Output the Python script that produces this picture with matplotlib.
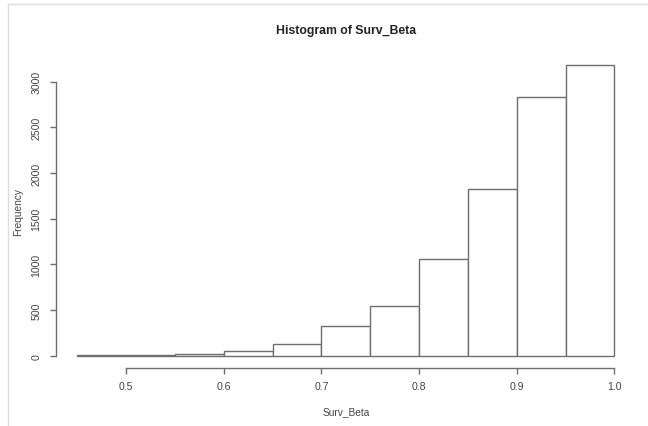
import matplotlib.pyplot as plt

plt.rcParams['font.family'] = ['Liberation Sans', 'DejaVu Sans']

# histogram of Surv_Beta
bin_left = [0.45, 0.50, 0.55, 0.60, 0.65, 0.70, 0.75, 0.80, 0.85, 0.90, 0.95]
counts = [5, 11, 22, 48, 135, 325, 548, 1063, 1831, 2836, 3182]
bin_width = 0.05
x_ticks = [0.5, 0.6, 0.7, 0.8, 0.9, 1.0]
y_ticks = [0, 500, 1000, 1500, 2000, 2500, 3000]

W, H = 648, 427
fig = plt.figure(figsize=(W / 100, H / 100), dpi=100)

# plot region in pixels (R style, 4% padding on the data range)
left_px, right_px = 56.0, 635.8
top_px, bottom_px = 54.5, 368.5
ax = fig.add_axes([left_px / W, 1 - bottom_px / H,
                   (right_px - left_px) / W, (bottom_px - top_px) / H])

line_col = '#6e6e6e'
ax.bar(bin_left, counts, width=bin_width, align='edge',
       facecolor='white', edgecolor=line_col, linewidth=1.0)

ax.set_xlim(0.428, 1.022)
ax.set_ylim(-127.3, 3309.3)

for s in ['top', 'right']:
    ax.spines[s].set_visible(False)
ax.spines['bottom'].set_bounds(0.5, 1.0)
ax.spines['left'].set_bounds(0, 3000)
for s in ['bottom', 'left']:
    ax.spines[s].set_color(line_col)
    ax.spines[s].set_linewidth(1.0)

ax.set_xticks(x_ticks)
ax.set_xticklabels([f'{v:.1f}' for v in x_ticks])
ax.set_yticks(y_ticks)
ax.set_yticklabels([str(v) for v in y_ticks], rotation=90, va='center')
ax.tick_params(axis='both', direction='out', length=4, width=1.0,
               color=line_col, labelcolor='#444444', labelsize=7.6)
ax.tick_params(axis='x', pad=5.5)
ax.tick_params(axis='y', pad=6.5)

# titles
fig.text(346 / W, 1 - 31 / H, 'Histogram of Surv_Beta', ha='center',
         va='center', fontsize=8.8, fontweight='bold', color='#222222')
fig.text(346 / W, 1 - 412 / H, 'Surv_Beta', ha='center', va='center',
         fontsize=7.3, color='#444444')
fig.text(18 / W, 1 - 212 / H, 'Frequency', ha='center', va='center',
         rotation=90, fontsize=7.3, color='#444444')

# light screenshot frame
fig.add_artist(plt.Line2D([8 / W, 1], [1 - 5 / H, 1 - 5 / H],
                          color='#dddddd', linewidth=1))
fig.add_artist(plt.Line2D([8 / W, 8 / W], [0, 1 - 5 / H],
                          color='#dddddd', linewidth=1))

fig.savefig('out.png', dpi=100)
